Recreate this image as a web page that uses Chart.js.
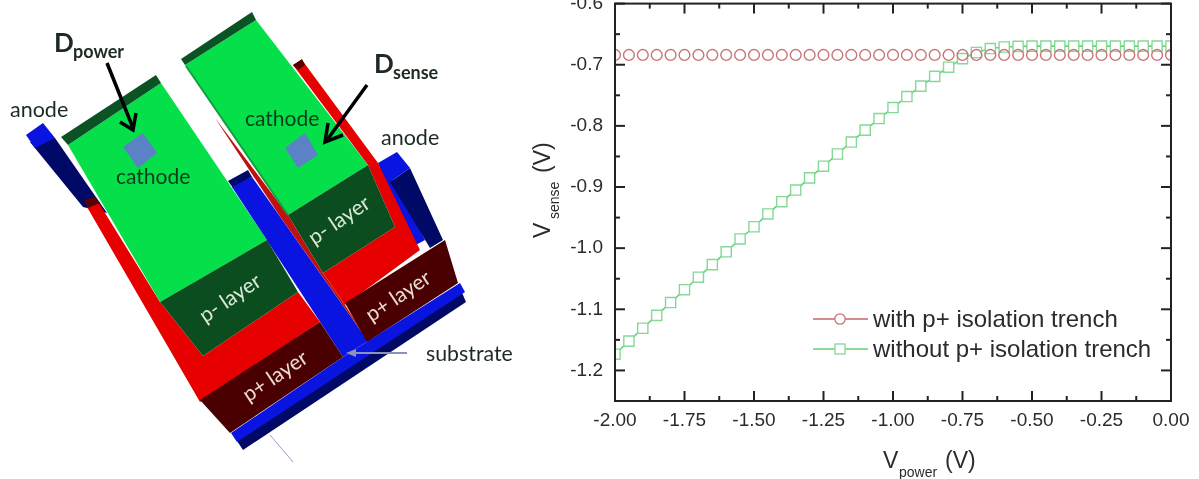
<!DOCTYPE html>
<html>
<head>
<meta charset="utf-8">
<title>Vsense vs Vpower</title>
<script src="https://cdn.jsdelivr.net/npm/chart.js@4"></script>
<style>
  html, body { margin: 0; padding: 0; background: #fff; overflow: hidden; }
  #page { position: relative; width: 1199px; height: 479px; overflow: hidden; }
  /* chart keeps half a label above the frame, shifted up so -0.6 gets cut like the original */
  #myChart { position: absolute; left: 520px; top: -5px; }
  #art { position: absolute; left: 0; top: 0; }
  .calibri { font-family: Lato, sans-serif; fill: #1c2a20; }
  .arial { font-family: "Liberation Sans", Arial, sans-serif; fill: #2b2b2b; }
</style>
</head>
<body>
<div id="page">
<canvas id="myChart" width="679" height="484"></canvas>
<svg id="art" width="1199" height="479" xmlns="http://www.w3.org/2000/svg">
  <!-- left anode -->
  <polygon points="30,142 55,138 107,213 83,207" fill="#000a66"/>
  <polygon points="26,135 43,123 55,138 35,148" fill="#0a14e0"/>
  <!-- blue column behind the left device -->
  <polygon points="228,181 248,170 252,177 233,188" fill="#000a66"/>
  <polygon points="232,187 252,177 368,341 343,357" fill="#0a14e0"/>
  <!-- right anode -->
  <polygon points="378,163 392,178 425,240 412,247" fill="#0a14e0"/>
  <polygon points="390,182 410,168 443,240 430,248" fill="#000a66"/>
  <polygon points="378,163 397,152 410,168 390,182" fill="#0a14e0"/>
  <!-- substrate -->
  <polygon points="235,438 460,288 466,302 243,450" fill="#000a66"/>
  <polygon points="231,433 343,357 368,341 460,283 465,292 237,442" fill="#0a14e0"/>
  <!-- left device -->
  <polygon points="87,207 97,200 160,302 203,356 298,292 320,322 200,402" fill="#e60000"/>
  <polygon points="84,200 95,197 100,203 88,208" fill="#5a0000"/>
  <polygon points="68,145 161,83 267,240 160,302" fill="#05e04a"/>
  <polygon points="61,137 156,75 161,83 68,145" fill="#0b5224"/>
  <polygon points="160,302 267,240 298,292 203,356" fill="#0b4d1e"/>
  <polygon points="200,400 320,322 343,357 230,433" fill="#4a0000"/>
  <!-- right device -->
  <polygon points="215,118 279,215 368,341 345,305 323,273 288,215" fill="#c01010"/>
  <polygon points="293,65 302,60 378,163 420,250 345,305 323,273 395,227 368,165" fill="#e60000"/>
  <polygon points="293,65 302,59 305,65 298,70" fill="#5a0000"/>
  <polygon points="185,65 256,20 368,165 288,215" fill="#05e04a"/>
  <line x1="186" y1="66" x2="288" y2="215" stroke="#12a040" stroke-width="2"/>
  <polygon points="181,59 252,12 256,20 185,65" fill="#0b5224"/>
  <polygon points="288,215 368,165 395,227 323,273" fill="#0b4d1e"/>
  <polygon points="345,303 445,240 458,283 367,342" fill="#4a0000"/>
  <!-- diode markers -->
  <polygon points="123,147 143,133 157,153 138,168" fill="#5b82c4"/>
  <polygon points="285,148 305,133 318,155 298,168" fill="#5b82c4"/>
  <!-- arrows -->
  <line x1="107" y1="63" x2="133" y2="128" stroke="#000" stroke-width="3.5"/>
  <polyline points="120,122 133,130 136,113" fill="none" stroke="#000" stroke-width="3.5"/>
  <line x1="367" y1="85" x2="327" y2="140" stroke="#000" stroke-width="3.5"/>
  <polyline points="328,123 325,142 343,135" fill="none" stroke="#000" stroke-width="3.5"/>
  <line x1="407" y1="353" x2="352" y2="353" stroke="#8a93b8" stroke-width="2"/>
  <polygon points="346,353 356,349 356,357" fill="#8a93b8"/>
  <line x1="270" y1="435" x2="293" y2="462" stroke="#9a9fd0" stroke-width="1"/>
  <!-- schematic labels -->
  <text class="calibri" x="54" y="52" font-size="26" font-weight="700">D</text>
  <text class="calibri" x="73" y="58" font-size="18" font-weight="700">power</text>
  <text class="calibri" x="374" y="73" font-size="26" font-weight="700">D</text>
  <text class="calibri" x="393" y="79" font-size="18" font-weight="700">sense</text>
  <text class="calibri" x="10" y="117" font-size="21.5">anode</text>
  <text class="calibri" x="381" y="145" font-size="21.5">anode</text>
  <text class="calibri" x="116" y="184" font-size="21" style="fill:#0a3d1c">cathode</text>
  <text class="calibri" x="245" y="126" font-size="21" style="fill:#0a3d1c">cathode</text>
  <text class="calibri" x="426" y="361" font-size="21.3">substrate</text>
  <text class="calibri" text-anchor="middle" transform="translate(234,304) rotate(-34)" font-size="21" style="fill:#d8e8d8">p- layer</text>
  <text class="calibri" text-anchor="middle" transform="translate(343,226) rotate(-34)" font-size="21" style="fill:#d8e8d8">p- layer</text>
  <text class="calibri" text-anchor="middle" transform="translate(279,382) rotate(-34)" font-size="21" style="fill:#eadcd0">p+ layer</text>
  <text class="calibri" text-anchor="middle" transform="translate(402,302) rotate(-34)" font-size="21" style="fill:#eadcd0">p+ layer</text>
  <!-- axis titles -->
  <text class="arial" x="883" y="468" font-size="23">V</text>
  <text class="arial" x="899" y="477" font-size="14">power</text>
  <text class="arial" x="945" y="468" font-size="23">(V)</text>
  <text class="arial" transform="translate(550,238) rotate(-90)" font-size="23">V</text>
  <text class="arial" transform="translate(559,219) rotate(-90)" font-size="14">sense</text>
  <text class="arial" transform="translate(550,173) rotate(-90)" font-size="23">(V)</text>
  <!-- legend -->
  <line x1="813" y1="319" x2="868" y2="319" stroke="#c96565" stroke-width="1.6"/>
  <circle cx="840" cy="319" r="5.2" fill="#fff" stroke="#c97474" stroke-width="1.3"/>
  <line x1="813" y1="349" x2="868" y2="349" stroke="#66d078" stroke-width="1.6"/>
  <rect x="835" y="344" width="10" height="10" fill="#fff" stroke="#85d996" stroke-width="1.3"/>
  <text id="legend1" class="arial" x="873" y="327" font-size="24"></text>
  <text id="legend2" class="arial" x="873" y="357" font-size="24"></text>
</svg>
</div>

<script>
const vPower = [-2.00, -1.95, -1.90, -1.85, -1.80, -1.75, -1.70, -1.65, -1.60, -1.55, -1.50, -1.45, -1.40, -1.35,
    -1.30, -1.25, -1.20, -1.15, -1.10, -1.05, -1.00, -0.95, -0.90, -0.85, -0.80, -0.75, -0.70, -0.65,
    -0.60, -0.55, -0.50, -0.45, -0.40, -0.35, -0.30, -0.25, -0.20, -0.15, -0.10, -0.05, 0.00];

const withTrench = [-0.684, -0.684, -0.684, -0.684, -0.684, -0.684, -0.684, -0.684, -0.684, -0.684, -0.684, -0.684, -0.684, -0.684,
    -0.684, -0.684, -0.684, -0.684, -0.684, -0.684, -0.684, -0.684, -0.684, -0.684, -0.684, -0.684, -0.684, -0.684,
    -0.684, -0.684, -0.684, -0.684, -0.684, -0.684, -0.684, -0.684, -0.684, -0.684, -0.684, -0.684, -0.684];

const withoutTrench = [-1.1735, -1.152, -1.131, -1.110, -1.089, -1.068, -1.0475, -1.027, -1.006, -0.985, -0.965, -0.944, -0.924, -0.905,
    -0.885, -0.866, -0.846, -0.8265, -0.807, -0.788, -0.770, -0.752, -0.735, -0.719, -0.704, -0.690, -0.680, -0.6735,
    -0.671, -0.670, -0.6695, -0.6695, -0.6695, -0.6695, -0.6695, -0.6695, -0.6695, -0.6695, -0.6695, -0.6695, -0.6695];

const seriesNames = ['with p+ isolation trench', 'without p+ isolation trench'];

const xTicks = [-2.00, -1.75, -1.50, -1.25, -1.00, -0.75, -0.50, -0.25, 0.00];
const xMinor = [-1.875, -1.625, -1.375, -1.125, -0.875, -0.625, -0.375, -0.125];
const yTicks = [-1.2, -1.1, -1.0, -0.9, -0.8, -0.7, -0.6];
const yMinor = [-1.25, -1.15, -1.05, -0.95, -0.85, -0.75, -0.65];

document.getElementById('legend1').textContent = seriesNames[0];
document.getElementById('legend2').textContent = seriesNames[1];

// origin style frame: box on all four sides, ticks pointing inwards
const frame = {
    id: 'frame',
    afterDatasetsDraw(chart) {
        const ctx = chart.ctx, a = chart.chartArea, x = chart.scales.x, y = chart.scales.y;
        ctx.save();
        ctx.strokeStyle = '#222';
        ctx.lineWidth = 2;
        ctx.strokeRect(a.left, a.top, a.right - a.left, a.bottom - a.top);
        function tick(x1, y1, x2, y2) {
            ctx.beginPath();
            ctx.moveTo(x1, y1);
            ctx.lineTo(x2, y2);
            ctx.stroke();
        }
        function xMarks(list, len) {
            list.forEach(v => {
                const p = x.getPixelForValue(v);
                tick(p, a.bottom, p, a.bottom - len);
                tick(p, a.top, p, a.top + len);
            });
        }
        function yMarks(list, len) {
            list.forEach(v => {
                const p = y.getPixelForValue(v);
                tick(a.left, p, a.left + len, p);
                tick(a.right, p, a.right - len, p);
            });
        }
        xMarks(xTicks, 10);
        xMarks(xMinor, 5);
        yMarks(yTicks, 10);
        yMarks(yMinor, 5);
        ctx.restore();
    }
};

var ctx = document.getElementById('myChart').getContext('2d');
var myChart = new Chart(ctx, {
    type: 'line',
    data: {
        labels: vPower,
        datasets: [{
            label: seriesNames[0],
            data: vPower.map((v, i) => ({x: v, y: withTrench[i]})),
            showLine: false,
            borderColor: '#c96565',
            pointStyle: 'circle',
            pointRadius: 5.4,
            pointBorderWidth: 1.4,
            pointBorderColor: '#c97474',
            pointBackgroundColor: 'rgba(0,0,0,0)',
            clip: 0
        }, {
            label: seriesNames[1],
            data: vPower.map((v, i) => ({x: v, y: withoutTrench[i]})),
            borderColor: '#66d078',
            borderWidth: 1.6,
            tension: 0,
            pointStyle: 'rect',
            pointRadius: 7.2,
            pointBorderWidth: 1.4,
            pointBorderColor: '#85d996',
            pointBackgroundColor: '#fff',
            clip: 0
        }]
    },
    options: {
        responsive: false,
        animation: false,
        layout: {padding: {top: 0, right: 28, left: 0, bottom: 0}},
        plugins: {legend: {display: false}, tooltip: {enabled: false}},
        scales: {
            x: {
                type: 'linear',
                min: -2,
                max: 0,
                grid: {display: false, drawTicks: false},
                border: {display: false},
                afterBuildTicks: s => { s.ticks = xTicks.map(v => ({value: v})); },
                afterFit: s => { s.height = 78; s.paddingLeft = 0; s.paddingRight = 0; },
                ticks: {
                    padding: 8,
                    maxRotation: 0,
                    autoSkip: false,
                    color: '#2b2b2b',
                    font: {family: '"Liberation Sans"', size: 19},
                    callback: v => v.toFixed(2)
                }
            },
            y: {
                min: -1.25,
                max: -0.6,
                grid: {display: false, drawTicks: false},
                border: {display: false},
                afterBuildTicks: s => { s.ticks = yTicks.map(v => ({value: v})); },
                afterFit: s => { s.width = 95; s.paddingTop = 0; s.paddingBottom = 0; },
                ticks: {
                    padding: 12,
                    autoSkip: false,
                    color: '#2b2b2b',
                    font: {family: '"Liberation Sans"', size: 19},
                    callback: v => v.toFixed(1)
                }
            }
        }
    },
    plugins: [frame]
});
</script>
</body>
</html>
